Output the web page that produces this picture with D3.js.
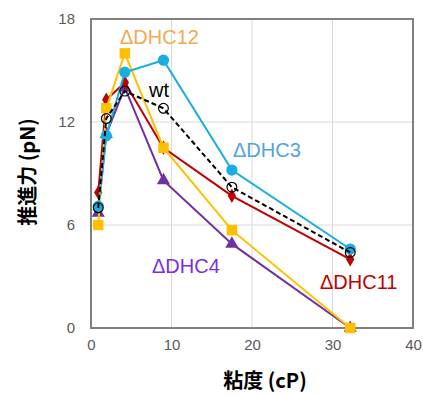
<!DOCTYPE html>
<html>
<head>
<meta charset="utf-8">
<script src="https://cdn.jsdelivr.net/npm/d3@7"></script>
<style>
	body { margin: 0; background: #fff; }
	svg { display: block; }
</style>
</head>
<body>
<svg id="chart" width="423" height="396"></svg>
<script>
// viscosity (cP) of each condition
var viscosity = [0.9, 1.9, 4.2, 9.0, 17.5, 32.2];

var xTicks = [0, 10, 20, 30, 40];
var yTicks = [0, 6, 12, 18];

// propulsive force (pN) per strain
var dhc4  = [6.7, 11.3, 14.0, 8.6, 4.9, 0.0];
var dhc11 = [7.9, 13.3, 14.3, 10.5, 7.7, 4.0];
var dhc12 = [6.0, 12.8, 16.0, 10.5, 5.7, 0.0];
var dhc3  = [7.1, 11.2, 14.9, 15.6, 9.2, 4.6];
var wt    = [7.0, 12.2, 13.8, 12.8, 8.2, 4.4];

var series = [
	{ name: "ΔDHC4",  values: dhc4,  color: "#7030A0", marker: "triangle" },
	{ name: "ΔDHC11", values: dhc11, color: "#C00000", marker: "diamond" },
	{ name: "ΔDHC12", values: dhc12, color: "#FFC000", marker: "square" },
	{ name: "ΔDHC3",  values: dhc3,  color: "#18AEE0", marker: "circle" },
	{ name: "wt",     values: wt,    color: "#000000", marker: "open", dashed: true }
];

var labels = [
	{ text: "ΔDHC12", x: 120, y: 44, color: "#F4A94E" },
	{ text: "wt",     x: 149, y: 97, color: "#000000" },
	{ text: "ΔDHC3",  x: 233, y: 157, color: "#4FA3E0" },
	{ text: "ΔDHC4",  x: 152, y: 273, color: "#7B2FE0" },
	{ text: "ΔDHC11", x: 320, y: 289, color: "#C00000" }
];

(function(){

var FONT = "Arial, 'Liberation Sans', sans-serif";
var CJK = "'Noto Sans CJK JP', sans-serif";

var svg = d3.select("#chart");
var PLOT_LEFT = 91, PLOT_RIGHT = 413, PLOT_TOP = 19, PLOT_BOTTOM = 328;

var x = d3.scaleLinear().domain([0, 40]).range([PLOT_LEFT, PLOT_RIGHT]);
var y = d3.scaleLinear().domain([0, 18]).range([PLOT_BOTTOM, PLOT_TOP]);

// grid
svg.append("g").selectAll("line")
	.data(xTicks.slice(1, -1))
	.enter().append("line")
	.attr("x1", function(d) { return x(d); })
	.attr("x2", function(d) { return x(d); })
	.attr("y1", PLOT_TOP).attr("y2", PLOT_BOTTOM)
	.attr("stroke", "#d9d9d9").attr("stroke-width", 1);

svg.append("g").selectAll("line")
	.data(yTicks.slice(1, -1))
	.enter().append("line")
	.attr("x1", PLOT_LEFT).attr("x2", PLOT_RIGHT)
	.attr("y1", function(d) { return y(d); })
	.attr("y2", function(d) { return y(d); })
	.attr("stroke", "#d9d9d9").attr("stroke-width", 1);

// axes (labels only, frame drawn separately)
var xAxis = svg.append("g")
	.attr("transform", "translate(0," + PLOT_BOTTOM + ")")
	.call(d3.axisBottom(x).tickValues(xTicks).tickSize(0).tickPadding(11));
var yAxis = svg.append("g")
	.attr("transform", "translate(" + PLOT_LEFT + ",0)")
	.call(d3.axisLeft(y).tickValues(yTicks).tickSize(0).tickPadding(16));

[xAxis, yAxis].forEach(function(ax) {
	ax.select(".domain").remove();
	ax.selectAll("text")
		.attr("fill", "#595959")
		.style("font-family", FONT)
		.style("font-size", "15px");
});

svg.append("rect")
	.attr("x", PLOT_LEFT).attr("y", PLOT_TOP)
	.attr("width", PLOT_RIGHT - PLOT_LEFT).attr("height", PLOT_BOTTOM - PLOT_TOP)
	.attr("fill", "none")
	.attr("stroke", "#7f7f7f")
	.attr("stroke-width", 2);

// lines + markers
var line = d3.line()
	.x(function(d, i) { return x(viscosity[i]); })
	.y(function(d) { return y(d); });

var symbolFor = {
	triangle: d3.symbolTriangle,
	diamond: d3.symbolDiamond,
	square: d3.symbolSquare,
	circle: d3.symbolCircle,
	open: d3.symbolCircle
};
var sizeFor = { triangle: 75, diamond: 60, square: 110, circle: 100, open: 75 };

series.forEach(function(s) {
	var g = svg.append("g");
	g.append("path")
		.datum(s.values)
		.attr("d", line)
		.attr("fill", "none")
		.attr("stroke", s.color)
		.attr("stroke-width", 2)
		.attr("stroke-dasharray", s.dashed ? "5,3" : null);

	g.selectAll("path.pt")
		.data(s.values)
		.enter().append("path")
		.attr("class", "pt")
		.attr("transform", function(d, i) {
			return "translate(" + x(viscosity[i]) + "," + y(d) + ")";
		})
		.attr("d", d3.symbol().type(symbolFor[s.marker]).size(sizeFor[s.marker]))
		.attr("fill", s.marker === "open" ? "none" : s.color)
		.attr("stroke", s.marker === "open" ? "#000" : "none")
		.attr("stroke-width", 1.2);
});

// series names
svg.append("g").selectAll("text")
	.data(labels)
	.enter().append("text")
	.attr("x", function(d) { return d.x; })
	.attr("y", function(d) { return d.y; })
	.attr("fill", function(d) { return d.color; })
	.style("font-family", FONT)
	.style("font-size", "20px")
	.text(function(d) { return d.text; });

// axis titles
svg.append("text")
	.attr("x", 265).attr("y", 388)
	.attr("text-anchor", "middle")
	.style("font-family", CJK)
	.style("font-size", "20px")
	.style("font-weight", "bold")
	.text("粘度 (cP)");

svg.append("text")
	.attr("transform", "translate(35,172) rotate(-90)")
	.attr("text-anchor", "middle")
	.style("font-family", CJK)
	.style("font-size", "20px")
	.style("font-weight", "bold")
	.text("推進力 (pN)");

})();
</script>
</body>
</html>
